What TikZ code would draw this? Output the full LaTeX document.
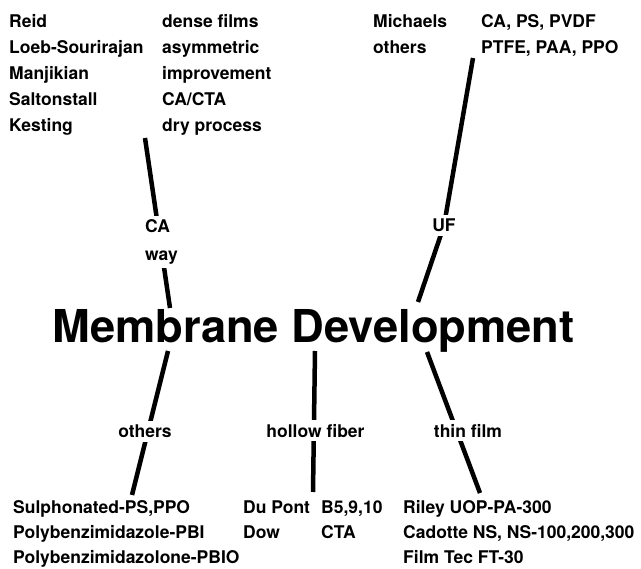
\documentclass[tikz,border=0pt]{standalone}
\usepackage{fontspec}
\setmainfont{TeX Gyre Heros}
\usetikzlibrary{positioning,backgrounds}
\tikzset{
  entry/.style={anchor=north west, inner sep=0pt, align=left,
    font=\bfseries\fontsize{17.5}{26}\selectfont},
  lowentry/.style={entry, font=\bfseries\fontsize{17.5}{25}\selectfont},
  tag/.style={fill=white, inner sep=4pt,
    font=\bfseries\fontsize{17.5}{27}\selectfont},
  headline/.style={inner sep=0pt, font=\bfseries\fontsize{45.3}{50}\selectfont},
  branch/.style={line width=4.5pt},
}

\begin{document}
\begin{tikzpicture}[x=1pt, y=-1pt]
  \useasboundingbox (0,0) rectangle (641,569);

  % centre title
  \node[headline, anchor=base] (md) at (313.5,343) {Membrane Development};

  % upper lists
  \node[entry] (ca-names) at (9,14.4)
    {Reid\\Loeb-Sourirajan\\Manjikian\\Saltonstall\\Kesting};
  \node[entry] (ca-notes) at (162,14.4)
    {dense films\\asymmetric\\improvement\\CA/CTA\\dry process};
  \node[entry] (uf-names) at (373,14.4) {Michaels\\others};
  \node[entry] (uf-notes) at (481,14.4) {CA, PS, PVDF\\PTFE, PAA, PPO};

  % lower lists
  \node[lowentry] (oth-list) at (13,500.3)
    {Sulphonated-PS,PPO\\Polybenzimidazole-PBI\\Polybenzimidazolone-PBIO};
  \node[lowentry] (hf-firms) at (243,500.3) {Du Pont\\Dow};
  \node[lowentry] (hf-types) at (321,500.3) {B5,9,10\\CTA};
  \node[lowentry] (tf-list) at (403,500.3)
    {Riley UOP-PA-300\\Cadotte NS, NS-100,200,300\\Film Tec FT-30};

  % branch labels
  \node[tag, anchor=north west, align=left] (caway) at (141,215.4) {CA\\[1pt]way};
  \node[tag] (uf) at (444,225.5) {UF};
  \node[tag] (oth) at (145,431.7) {others};
  \node[tag] (hf) at (315.5,430.7) {hollow fiber};
  \node[tag] (tf) at (468,430.7) {thin film};

  % branch ends
  \coordinate (ca-top) at (145,138);
  \coordinate (ca-bot) at (170,308);
  \coordinate (uf-top) at (473,58);
  \coordinate (uf-bot) at (418,302);
  \coordinate (oth-top) at (168,351);
  \coordinate (oth-bot) at (132,495);
  \coordinate (hf-top) at (315,351);
  \coordinate (hf-bot) at (313,492);
  \coordinate (tf-top) at (427,352);
  \coordinate (tf-bot) at (480,493);

  \begin{scope}[on background layer]
    \draw[branch] (ca-top) -- (ca-bot);
    \draw[branch] (uf-top) -- (uf.center) -- (uf-bot);
    \draw[branch] (oth-top) -- (oth-bot);
    \draw[branch] (hf-top) -- (hf-bot);
    \draw[branch] (tf-top) -- (tf-bot);
  \end{scope}
\end{tikzpicture}
\end{document}
